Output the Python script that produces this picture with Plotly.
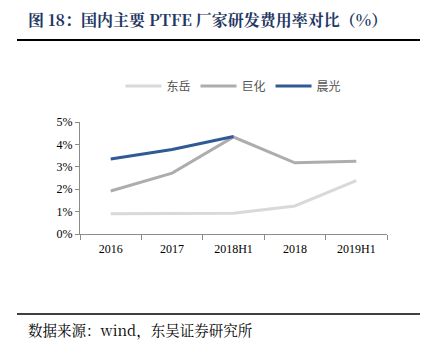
import plotly.graph_objects as go

categories = ["2016", "2017", "2018H1", "2018", "2019H1"]
dongyue = [0.90, 0.93, 0.93, 1.25, 2.38]
juhua = [1.92, 2.72, 4.33, 3.18, 3.25]
chenguang = [3.35, 3.77, 4.35]

W, H = 424, 354
L, R, T, B = 80, 37, 122, 120
pw, ph = W - L - R, H - T - B

def px(x):
    return (x - L) / pw

def py(y):
    return (H - B - y) / ph

fig = go.Figure()
fig.add_trace(go.Scatter(x=categories, y=dongyue, name="东岳", mode="lines",
                         line=dict(color="#d9d9d9", width=3)))
fig.add_trace(go.Scatter(x=categories, y=juhua, name="巨化", mode="lines",
                         line=dict(color="#adadad", width=3)))
fig.add_trace(go.Scatter(x=categories[:3], y=chenguang, name="晨光", mode="lines",
                         line=dict(color="#315a95", width=3)))

fig.update_layout(
    width=W, height=H,
    margin=dict(l=L, r=R, t=T, b=B),
    paper_bgcolor="white", plot_bgcolor="white",
    showlegend=True,
    legend=dict(orientation="h", x=0.5, xanchor="center", y=py(86), yanchor="middle",
                font=dict(family="Noto Sans CJK SC", size=12, color="#555555"),
                itemwidth=36, tracegroupgap=0),
    xaxis=dict(type="category", categoryorder="array", categoryarray=categories,
               range=[-0.5, 4.5],
               showline=True, linecolor="#8c8c8c", linewidth=1,
               ticks="outside", tickson="boundaries", ticklen=5, tickcolor="#8c8c8c",
               showgrid=False, zeroline=False, ticklabelstandoff=4,
               tickfont=dict(family="Liberation Serif", size=12, color="black")),
    yaxis=dict(range=[0, 5], dtick=1, ticksuffix="%",
               showline=True, linecolor="#8c8c8c", linewidth=1,
               ticks="outside", ticklen=4, tickcolor="#8c8c8c",
               showgrid=False, zeroline=False,
               tickfont=dict(family="Liberation Serif", size=12, color="black")),
)

fig.add_annotation(text="<b>图 18：国内主要 PTFE 厂家研发费用率对比（%）</b>",
                   xref="paper", yref="paper", x=px(26), y=py(20),
                   xanchor="left", yanchor="middle", showarrow=False,
                   font=dict(family="Noto Serif CJK SC, Noto Sans CJK SC", size=16, color="#1f3763"))
fig.add_annotation(text="数据来源：wind，东吴证券研究所",
                   xref="paper", yref="paper", x=px(26), y=py(329),
                   xanchor="left", yanchor="middle", showarrow=False,
                   font=dict(family="Noto Serif CJK SC, Noto Sans CJK SC", size=14.5, color="black"))
fig.add_shape(type="line", xref="paper", yref="paper",
              x0=px(17), x1=px(420), y0=py(40), y1=py(40),
              line=dict(color="black", width=2))
fig.add_shape(type="line", xref="paper", yref="paper",
              x0=px(17), x1=px(420), y0=py(314), y1=py(314),
              line=dict(color="black", width=1.5))

fig.write_html("out.html")
